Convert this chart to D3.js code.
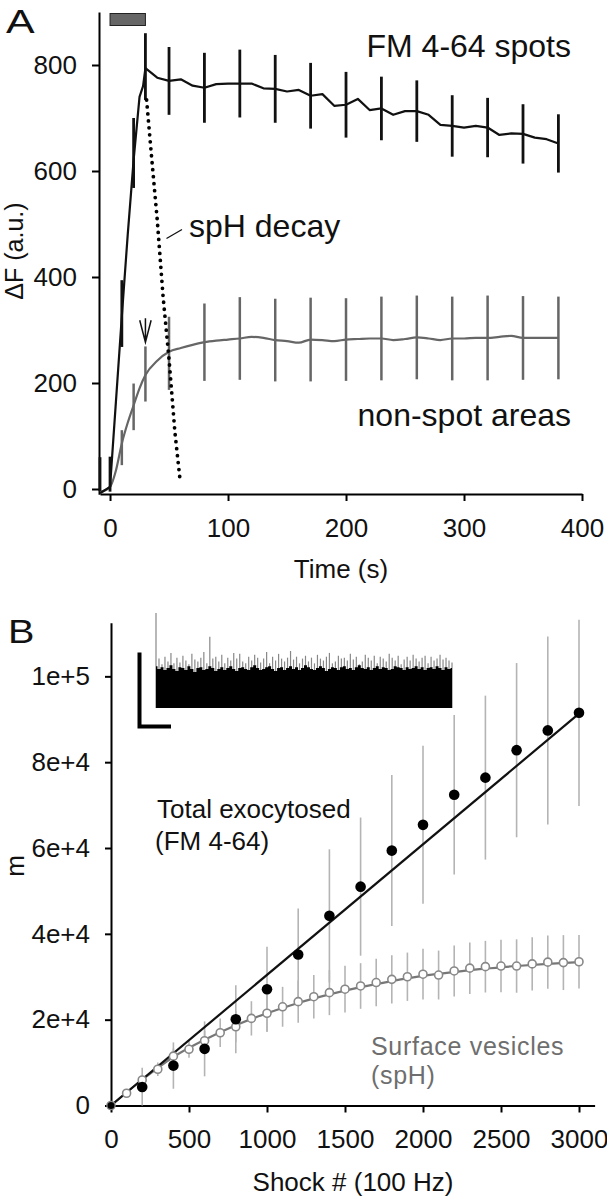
<!DOCTYPE html>
<html><head><meta charset="utf-8">
<script src="https://cdn.jsdelivr.net/npm/d3@7"></script>
<style>
html,body{margin:0;padding:0;background:#fff;}
svg{display:block;font-family:"Liberation Sans",Arial,sans-serif;}
</style></head>
<body><svg id="c" width="607" height="1199"></svg>
<script>
// ---------- Panel A data ----------
const spotsT = [-8.5,0,5,10,15,20,25,28,30,40,50,60,70,80,90,100,110,120,130,140,150,160,170,180,190,200,210,220,230,240,250,260,270,280,290,300,310,320,330,340,350,360,370,380];
const spotsV = [-8,4,165,326,480,621,740,760,794,776,770,773,761,757,764,765,765,765,756,755,750,753,742,745,723,725,736,715,718,706,713,713,706,687,685,682,685,682,668,671,670,663,660,652];
const spotsBarT = [-8.5,0,10,20,30,50,80,110,140,170,200,230,260,290,320,350,380];
const spotsBarM = [28,28,331,634,797,770,757,765,755,742,725,718,713,685,682,670,652];
const spotsBarE = [32,33,63,66,63,64,66,64,64,62,62,60,58,58,56,56,55];

const nonSpotT = [-8.5,0,5,10,15,20,25,30,40,50,60,70,80,90,100,110,120,130,140,150,160,170,180,190,200,210,220,230,240,250,260,270,280,290,300,310,320,330,340,350,360,370,380];
const nonSpotV = [-6,4,35,86,125,158,190,215,242,259,266,272,277,280,282,284,287,285,281,279,276,282,281,279,282,283,284,284,281,283,286,284,281,284,284,285,285,287,289,285,285,285,285];
const nonSpotBarT = [10,20,30,50,80,110,140,170,200,230,260,290,320,350,380];
const nonSpotBarM = [78,155,217,256,277,284,281,282,282,284,286,284,285,285,285];
const nonSpotBarE = [33,44,52,69,73,78,78,79,78,79,79,79,80,79,78];

const decayT = [31,35,40,45,50,55,59.5];
const decayV = [734,632,508,362,245,107,14];

const stimStart = 0, stimEnd = 30;
const arrowT = 30, arrowV = 277;
const ticksA_x = [0,100,200,300,400];
const ticksA_y = [0,200,400,600,800];

// ---------- Panel B data ----------
const totalX = [0,200,400,600,800,1000,1200,1400,1600,1800,2000,2200,2400,2600,2800,3000];
const totalY = [0,4300,9300,13200,20100,27100,35200,44200,51000,59400,65400,72400,76400,82800,87400,91500];
const totalE = [0,4500,5400,6400,7900,9900,10700,15500,16100,17600,18400,18600,19100,20300,21900,21700];
const totalFitX = [0,3000];
const totalFitY = [0,91300];

const surfX = [0,100,200,300,400,500,600,700,800,900,1000,1100,1200,1300,1400,1500,1600,1700,1800,1900,2000,2100,2200,2300,2400,2500,2600,2700,2800,2900,3000];
const surfY = [0,2850,5950,8450,11500,13100,15100,16950,18350,20300,21500,23000,24200,25350,26300,27100,27850,28650,29400,30000,30600,30400,31350,32000,32350,32500,32500,33000,33400,33300,33500];
const surfE = [0,800,1200,1550,1800,1950,2300,3300,3600,4000,4300,4650,4900,5050,5250,5440,5320,5550,5630,5630,5900,5700,5940,6000,6020,6100,6220,6220,6220,6400,6220];
const surfFitX = [0,200,400,600,800,1000,1200,1400,1600,1800,2000,2200,2400,2600,2800,3000];
const surfFitY = [0,6000,11300,15300,18700,21500,23900,25900,27600,29000,30200,31100,31900,32500,33000,33400];

const ticksB_x = [0,500,1000,1500,2000,2500,3000];
const ticksB_y = [0,20000,40000,60000,80000,100000];
const ticksB_yLab = ["0","2e+4","4e+4","6e+4","8e+4","1e+5"];

// inset trace (arbitrary units)
const insetCore = [44,41,43,40,42,45,41,39,43,42,40,44,41,38,42,43,40,41,44,42,39,41,43,40,42,44,41,39,42,43,41,40,43,45,42,40,41,43,44,41,39,42,43,40,42,44,41,43,40,42,45,43,41,40,42,44,42,39,41,43,42,40,43,44,41,42,40,43,45,42,41,43,40,42,44,41,43,42,40,41,44,43,42,40,43,41,42,44,41,43,40,42,43,41,44,42,40,43,41,42];
const insetPeak = [100,52,46,54,49,58,47,53,48,55,50,46,57,51,49,53,59,47,75,52,54,49,56,47,53,50,58,52,57,49,47,54,50,56,53,48,52,59,47,54,50,57,52,49,53,60,51,54,47,52,55,49,53,47,56,52,50,54,58,47,49,55,52,53,50,57,51,54,46,49,56,53,50,55,47,54,52,49,57,53,50,55,46,51,54,50,56,52,49,53,55,47,54,50,52,56,51,53,50,48];

const svg = d3.select("#c");
const FONT_TICK = 26, FONT_ANN = 32, FONT_B_ANN = 25;

// ================= Panel A =================
const xA = d3.scaleLinear().domain([-8.5,400]).range([100,582]);
const yA = d3.scaleLinear().domain([-10,900]).range([494.3,12]);
const gA = svg.append("g");

function styleAxis(g){
  g.selectAll("path.domain").attr("stroke","#000").attr("stroke-width",2);
  g.selectAll(".tick line").attr("stroke","#000").attr("stroke-width",2);
  g.selectAll(".tick text").attr("fill","#111").style("font-size",FONT_TICK+"px").style("font-family",'"Liberation Sans",Arial,sans-serif');
}
const axAy = gA.append("g").attr("transform","translate(99,0)")
  .call(d3.axisLeft(yA).tickValues(ticksA_y).tickSize(7).tickSizeOuter(0).tickPadding(15));
styleAxis(axAy);
const axAx = gA.append("g").attr("transform","translate(0,494)")
  .call(d3.axisBottom(xA).tickValues(ticksA_x).tickSize(7).tickSizeOuter(0).tickPadding(18));
styleAxis(axAx);

// stimulus bar
gA.append("rect").attr("x",xA(stimStart)).attr("y",13.5).attr("width",xA(stimEnd)-xA(stimStart)).attr("height",12)
  .attr("fill","#666").attr("stroke","#222").attr("stroke-width",1);

// non-spot (grey)
gA.append("path").datum(d3.zip(nonSpotT,nonSpotV))
  .attr("d",d3.line().x(d=>xA(d[0])).y(d=>yA(d[1])).curve(d3.curveMonotoneX))
  .attr("fill","none").attr("stroke","#666").attr("stroke-width",2.2);
gA.selectAll("line.gbar").data(d3.range(nonSpotBarT.length)).join("line")
  .attr("x1",i=>xA(nonSpotBarT[i])).attr("x2",i=>xA(nonSpotBarT[i]))
  .attr("y1",i=>yA(nonSpotBarM[i]-nonSpotBarE[i])).attr("y2",i=>yA(nonSpotBarM[i]+nonSpotBarE[i]))
  .attr("stroke","#666").attr("stroke-width",2.5);

// spots (black)
gA.append("path").datum(d3.zip(spotsT,spotsV)).attr("d",d3.line().x(d=>xA(d[0])).y(d=>yA(d[1])))
  .attr("fill","none").attr("stroke","#111").attr("stroke-width",2.2).attr("stroke-linejoin","round");
gA.selectAll("line.bbar").data(d3.range(spotsBarT.length)).join("line")
  .attr("x1",i=>xA(spotsBarT[i])).attr("x2",i=>xA(spotsBarT[i]))
  .attr("y1",i=>yA(spotsBarM[i]-spotsBarE[i])).attr("y2",i=>yA(spotsBarM[i]+spotsBarE[i]))
  .attr("stroke","#111").attr("stroke-width",2.8);

// decay (dotted)
gA.append("path").datum(d3.zip(decayT,decayV)).attr("d",d3.line().x(d=>xA(d[0])).y(d=>yA(d[1])))
  .attr("fill","none").attr("stroke","#000").attr("stroke-width",3.8)
  .attr("stroke-linecap","round").attr("stroke-dasharray","0,7");

// arrow
const ax = xA(arrowT), ay = yA(arrowV);
gA.append("path").attr("d",`M${ax},${ay-24}V${ay}M${ax-5.7},${ay-22}L${ax},${ay}L${ax+5.7},${ay-22}`)
  .attr("fill","none").attr("stroke","#111").attr("stroke-width",1.5);

// annotations
gA.append("text").attr("x",6).attr("y",33).text("A").style("font-size","33px").attr("fill","#111")
  .attr("transform","translate(6,33) scale(1.3,1) translate(-6,-33)");
gA.append("text").attr("x",571).attr("y",57).attr("text-anchor","end").text("FM 4-64 spots").style("font-size",FONT_ANN+"px").attr("fill","#111");
gA.append("text").attr("x",189).attr("y",237).text("spH decay").style("font-size",FONT_ANN+"px").attr("fill","#111");
gA.append("line").attr("x1",166.5).attr("y1",238.5).attr("x2",182).attr("y2",229.5).attr("stroke","#111").attr("stroke-width",1.3);
gA.append("text").attr("x",571).attr("y",426).attr("text-anchor","end").text("non-spot areas").style("font-size",FONT_ANN+"px").attr("fill","#111");
gA.append("text").attr("transform","translate(23,251) rotate(-90)").attr("text-anchor","middle").text("ΔF (a.u.)").style("font-size","25px").attr("fill","#111");
gA.append("text").attr("x",341).attr("y",578).attr("text-anchor","middle").text("Time (s)").style("font-size","26px").attr("fill","#111");

// ================= Panel B =================
const xB = d3.scaleLinear().domain([0,3100]).range([111,594.6]);
const yB = d3.scaleLinear().domain([0,112500]).range([1105.5,622.7]);
const gB = svg.append("g");

// inset trace
const xI = d3.scaleLinear().domain([0,insetCore.length-1]).range([156,452]);
const yI = d3.scaleLinear().domain([0,100]).range([708,613]);
gB.selectAll("line.ip").data(insetPeak).join("line")
  .attr("x1",(d,i)=>xI(i)).attr("x2",(d,i)=>xI(i)).attr("y1",yI(0)).attr("y2",d=>yI(d))
  .attr("stroke","#888").attr("stroke-width",1.2);
gB.append("path").datum(insetCore)
  .attr("d",d3.area().x((d,i)=>xI(i)).y0(yI(0)).y1(d=>yI(d)).curve(d3.curveStep))
  .attr("fill","#000");
// scale bar (L)
gB.append("path").attr("d","M139.5,652.5V726.5H171").attr("fill","none").attr("stroke","#000").attr("stroke-width",4);

const axBy = gB.append("g").attr("transform","translate(111,0)")
  .call(d3.axisLeft(yB).tickValues(ticksB_y).tickFormat((d,i)=>ticksB_yLab[i]).tickSize(6).tickSizeOuter(0).tickPadding(15));
styleAxis(axBy);
const axBx = gB.append("g").attr("transform","translate(0,1105.5)")
  .call(d3.axisBottom(xB).tickValues(ticksB_x).tickFormat(d3.format("d")).tickSize(7).tickSizeOuter(0).tickPadding(17));
styleAxis(axBx);

// error bars
gB.selectAll("line.se").data(d3.range(surfX.length)).join("line")
  .attr("x1",i=>xB(surfX[i])).attr("x2",i=>xB(surfX[i]))
  .attr("y1",i=>yB(surfY[i]-surfE[i])).attr("y2",i=>yB(surfY[i]+surfE[i]))
  .attr("stroke","#b4b4b4").attr("stroke-width",1.6);
gB.selectAll("line.te").data(d3.range(totalX.length)).join("line")
  .attr("x1",i=>xB(totalX[i])).attr("x2",i=>xB(totalX[i]))
  .attr("y1",i=>yB(Math.max(0,totalY[i]-totalE[i]))).attr("y2",i=>yB(totalY[i]+totalE[i]))
  .attr("stroke","#b4b4b4").attr("stroke-width",1.6);

// fits
gB.append("path").datum(d3.zip(surfFitX,surfFitY))
  .attr("d",d3.line().x(d=>xB(d[0])).y(d=>yB(d[1])).curve(d3.curveMonotoneX))
  .attr("fill","none").attr("stroke","#777").attr("stroke-width",2.2);
gB.append("path").datum(d3.zip(totalFitX,totalFitY))
  .attr("d",d3.line().x(d=>xB(d[0])).y(d=>yB(d[1])))
  .attr("fill","none").attr("stroke","#111").attr("stroke-width",2.2);

// markers
gB.selectAll("circle.s").data(d3.range(surfX.length)).join("circle")
  .attr("cx",i=>xB(surfX[i])).attr("cy",i=>yB(surfY[i])).attr("r",4)
  .attr("fill","#fff").attr("stroke","#888").attr("stroke-width",1.6);
gB.selectAll("circle.t").data(d3.range(totalX.length)).join("circle")
  .attr("cx",i=>xB(totalX[i])).attr("cy",i=>yB(totalY[i])).attr("r",i=>i===0?3.5:5.3)
  .attr("fill","#000");

// text
gB.append("text").attr("x",8).attr("y",643).text("B").style("font-size","33px").attr("fill","#111")
  .attr("transform","translate(8,643) scale(1.2,1) translate(-8,-643)");
gB.append("text").attr("x",157).attr("y",818).text("Total exocytosed").style("font-size","26px").attr("fill","#111");
gB.append("text").attr("x",155).attr("y",850).text("(FM 4-64)").style("font-size","26px").attr("fill","#111");
gB.append("text").attr("x",371).attr("y",1055).text("Surface vesicles").style("font-size",FONT_B_ANN+"px").style("letter-spacing","0.7px").attr("fill","#6e6e6e");
gB.append("text").attr("x",371).attr("y",1084).text("(spH)").style("font-size",FONT_B_ANN+"px").style("letter-spacing","0.7px").attr("fill","#6e6e6e");
gB.append("text").attr("transform","translate(24,866) rotate(-90)").attr("text-anchor","middle").text("m").style("font-size","26px").attr("fill","#111");
gB.append("text").attr("x",353).attr("y",1191).attr("text-anchor","middle").text("Shock # (100 Hz)").style("font-size","26px").attr("fill","#111");
</script>
</body></html>
